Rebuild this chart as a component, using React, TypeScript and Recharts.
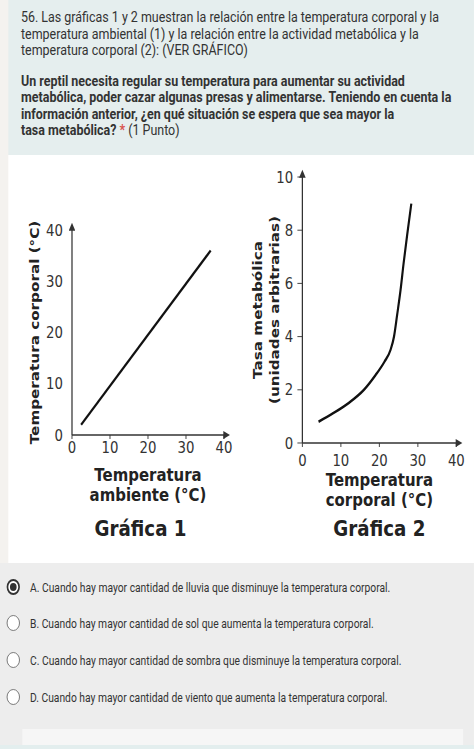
import { LineChart, Line, XAxis, YAxis, Label } from 'recharts';

// the reference picture is squeezed sideways, so the page is laid out wider and scaled back
const S = 0.83;
const sx = (v: number) => v / S;

const xTicks = [0, 10, 20, 30, 40];
const bodyTempTicks = [0, 10, 20, 30, 40];
const rateTicks = [0, 2, 4, 6, 8, 10];

// Gráfica 1: temperatura ambiente -> temperatura corporal
const ambientTemp = [2.4, 36.5];
const bodyTemp1 = [2, 36];

// Gráfica 2: temperatura corporal -> tasa metabólica
const bodyTemp2 = [4.2, 8, 12, 16, 19, 21.3, 22.9, 23.8, 24.6, 25.5, 26.3, 27.2, 28.3];
const metabolicRate = [0.8, 1.12, 1.5, 2.0, 2.55, 3.05, 3.5, 4.0, 4.8, 5.75, 6.76, 7.8, 9.0];

const introLines = [
  '56. Las gráficas 1 y 2 muestran la relación entre la temperatura corporal y la',
  'temperatura ambiental (1) y la relación entre la actividad metabólica y la',
  'temperatura corporal (2): (VER GRÁFICO)',
];
const questionLines = [
  'Un reptil necesita regular su temperatura para aumentar su actividad',
  'metabólica, poder cazar algunas presas y alimentarse. Teniendo en cuenta la',
  'información anterior, ¿en qué situación se espera que sea mayor la',
];
const options = [
  'A. Cuando hay mayor cantidad de lluvia que disminuye la temperatura corporal.',
  'B. Cuando hay mayor cantidad de sol que aumenta la temperatura corporal.',
  'C. Cuando hay mayor cantidad de sombra que disminuye la temperatura corporal.',
  'D. Cuando hay mayor cantidad de viento que aumenta la temperatura corporal.',
];
const optionY = [587, 623, 660, 697];

const graph1 = ambientTemp.map((x, i) => ({ x, y: bodyTemp1[i] }));
const graph2 = bodyTemp2.map((x, i) => ({ x, y: metabolicRate[i] }));

const axisColor = '#333';
const tick = { fontSize: 16, fill: '#333' };
const axisTitle = { fontSize: 18, fontWeight: 700, fill: '#222' };
const yTitle = { fontSize: 15.2, fontWeight: 700, fill: '#222', textAnchor: 'middle' as const };
const chartTitle = { fontSize: 22, fontWeight: 700, fill: '#222' };

function arrowDefs(id: string) {
  return (
    <defs>
      <marker
        id={id}
        viewBox="0 0 10 10"
        refX="1"
        refY="5"
        markerWidth="9"
        markerHeight="8"
        markerUnits="userSpaceOnUse"
        orient="auto-start-reverse"
      >
        <path d="M0,0 L10,5 L0,10 z" fill={axisColor} />
      </marker>
    </defs>
  );
}

function Graph1() {
  return (
    <LineChart
      width={sx(237)}
      height={370}
      data={graph1}
      margin={{ top: 50, right: sx(13), bottom: 0, left: 0 }}
    >
      {arrowDefs('arrow-g1')}
      <XAxis
        dataKey="x"
        type="number"
        domain={[0, 40]}
        ticks={xTicks}
        interval={0}
        height={115}
        tick={tick}
        tickSize={4}
        tickMargin={3}
        tickLine={{ stroke: axisColor }}
        axisLine={{ stroke: axisColor, strokeWidth: 1.5, markerEnd: 'url(#arrow-g1)' }}
      >
        <Label value="Temperatura" position="insideTop" offset={33} style={axisTitle} />
        <Label value="ambiente (°C)" position="insideTop" offset={53} style={axisTitle} />
        <Label value="Gráfica 1" position="insideTop" offset={85} dx={-9} style={chartTitle} />
      </XAxis>
      <YAxis
        type="number"
        domain={[0, 40]}
        ticks={bodyTempTicks}
        interval={0}
        width={sx(72)}
        tick={tick}
        tickSize={5}
        tickMargin={6}
        tickLine={false}
        axisLine={{ stroke: axisColor, strokeWidth: 1.5, markerStart: 'url(#arrow-g1)' }}
      >
        <Label value="Temperatura corporal (°C)" angle={-90} position="insideLeft" offset={sx(35)} style={yTitle} />
      </YAxis>
      <Line
        dataKey="y"
        type="linear"
        stroke="#111"
        strokeWidth={2.6}
        dot={false}
        isAnimationActive={false}
      />
    </LineChart>
  );
}

function Graph2() {
  return (
    <LineChart
      width={sx(237)}
      height={390}
      data={graph2}
      margin={{ top: 17, right: sx(18), bottom: 0, left: 0 }}
    >
      {arrowDefs('arrow-g2')}
      <XAxis
        dataKey="x"
        type="number"
        domain={[0, 40]}
        ticks={xTicks}
        interval={0}
        height={107}
        tick={tick}
        tickSize={4}
        tickMargin={8}
        tickLine={{ stroke: axisColor }}
        axisLine={{ stroke: axisColor, strokeWidth: 1.5, markerEnd: 'url(#arrow-g2)' }}
      >
        <Label value="Temperatura" position="insideTop" offset={30} style={axisTitle} />
        <Label value="corporal (°C)" position="insideTop" offset={50} style={axisTitle} />
        <Label value="Gráfica 2" position="insideTop" offset={77} style={chartTitle} />
      </XAxis>
      <YAxis
        type="number"
        domain={[0, 10]}
        ticks={rateTicks}
        interval={0}
        width={sx(65)}
        tick={tick}
        tickSize={6}
        tickMargin={5}
        tickLine={{ stroke: axisColor }}
        axisLine={{ stroke: axisColor, strokeWidth: 1.5, markerStart: 'url(#arrow-g2)' }}
      >
        <Label value="Tasa metabólica" angle={-90} position="insideLeft" offset={sx(20)} style={yTitle} />
        <Label value="(unidades arbitrarias)" angle={-90} position="insideLeft" offset={sx(37)} style={yTitle} />
      </YAxis>
      <Line
        dataKey="y"
        type="monotone"
        stroke="#111"
        strokeWidth={2.6}
        dot={false}
        isAnimationActive={false}
      />
    </LineChart>
  );
}

function Radio({ checked }: { checked: boolean }) {
  return (
    <div
      style={{
        width: 16,
        height: 16,
        boxSizing: 'border-box',
        borderRadius: '50%',
        border: checked ? '2.5px solid #333' : '1.5px solid #6f6f6f',
        background: '#fff',
        display: 'flex',
        alignItems: 'center',
        justifyContent: 'center',
      }}
    >
      {checked && <div style={{ width: 8, height: 8, borderRadius: '50%', background: '#333' }} />}
    </div>
  );
}

export default function App() {
  const W = sx(474);
  return (
    <div style={{ position: 'absolute', left: 0, top: 0, width: 474, height: 749, overflow: 'hidden' }}>
      <div
        style={{
          position: 'absolute',
          left: 0,
          top: 0,
          width: W,
          height: 749,
          transform: `scaleX(${S})`,
          transformOrigin: '0 0',
          background: '#f4f2ef',
          fontFamily: 'Roboto, sans-serif',
          color: '#333',
        }}
      >
        {/* question header */}
        <div style={{ position: 'absolute', left: sx(8), top: 0, width: W - sx(8), height: 155, background: '#e5eeee' }} />
        <div style={{ position: 'absolute', left: sx(21), top: 9, fontSize: 15, lineHeight: '16.5px', whiteSpace: 'nowrap' }}>
          {introLines.map((l) => (
            <div key={l}>{l}</div>
          ))}
        </div>
        <div
          style={{
            position: 'absolute',
            left: sx(21),
            top: 73,
            fontSize: 15,
            fontWeight: 700,
            lineHeight: '16.3px',
            whiteSpace: 'nowrap',
          }}
        >
          {questionLines.map((l) => (
            <div key={l}>{l}</div>
          ))}
          <div>
            tasa metabólica? <span style={{ color: '#d9534f' }}>*</span>{' '}
            <span style={{ fontWeight: 400 }}>(1 Punto)</span>
          </div>
        </div>

        {/* graph area */}
        <div style={{ position: 'absolute', left: sx(8), top: 155, width: W - sx(8), height: 408, background: '#fff' }} />
        <div style={{ position: 'absolute', left: 0, top: 180, fontFamily: '"DejaVu Sans", sans-serif' }}>
          <Graph1 />
        </div>
        <div style={{ position: 'absolute', left: sx(237), top: 160, fontFamily: '"DejaVu Sans", sans-serif' }}>
          <Graph2 />
        </div>

        {/* answer options */}
        <div style={{ position: 'absolute', left: 0, top: 563, width: W, height: 186, background: '#ededed' }} />
        {options.map((o, i) => (
          <div
            key={o}
            style={{
              position: 'absolute',
              left: sx(7),
              top: optionY[i] - 8,
              height: 16,
              display: 'flex',
              alignItems: 'center',
              whiteSpace: 'nowrap',
              fontSize: 12.4,
            }}
          >
            <Radio checked={i === 0} />
            <span style={{ marginLeft: sx(30) - sx(7) - 16 }}>{o}</span>
          </div>
        ))}
        <div style={{ position: 'absolute', left: sx(22), top: 729, width: sx(441), height: 16, background: '#f6f6f6' }} />
        <div style={{ position: 'absolute', left: 0, top: 745, width: W, height: 4, background: '#e3eeee' }} />
      </div>
    </div>
  );
}
